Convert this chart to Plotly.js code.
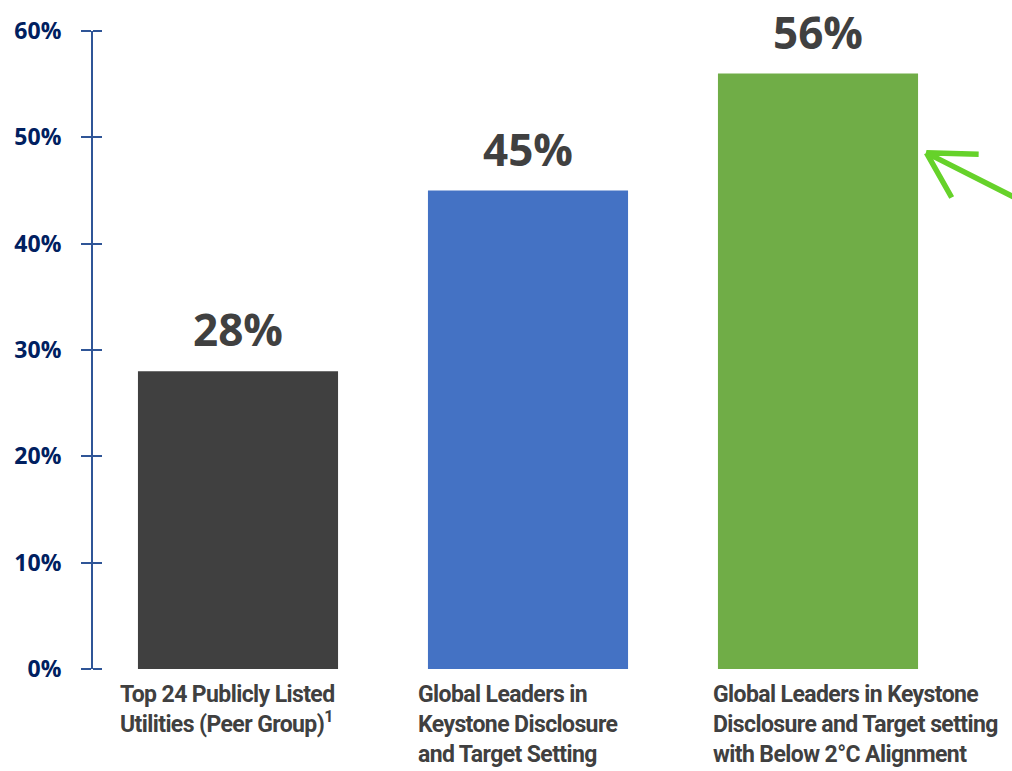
<!DOCTYPE html>
<html>
<head>
<meta charset="utf-8">
<script src="https://cdn.plot.ly/plotly-3.0.1.min.js"></script>
<style>
html,body{margin:0;padding:0;background:#fff;}
</style>
</head>
<body>
<div id="chart" style="width:1012px;height:771px;"></div>
<script>
const categories = [
  "Top 24 Publicly Listed<br>Utilities (Peer Group)<sup>1</sup>",
  "Global Leaders in<br>Keystone Disclosure<br>and Target Setting",
  "Global Leaders in Keystone<br>Disclosure and Target setting<br>with Below 2°C Alignment"
];
const values = [28, 45, 56];
const valueLabels = ["28%", "45%", "56%"];
const barColors = ["#404040", "#4472C4", "#70AD47"];
const yTickVals = [0, 10, 20, 30, 40, 50, 60];
const yTickText = ["0%", "10%", "20%", "30%", "40%", "50%", "60%"];

const xIdx = categories.map((_, i) => i);
const labelShift = [-0.414, -0.386, -0.369];

const trace = {
  type: "bar",
  x: xIdx,
  y: values,
  marker: {color: barColors},
  width: 0.69,
  hoverinfo: "skip"
};

const annotations = [];
values.forEach((v, i) => {
  annotations.push({
    x: i, y: v, xref: "x", yref: "y",
    text: "<b>" + valueLabels[i] + "</b>",
    showarrow: false, yanchor: "bottom", yshift: 10,
    font: {family: "Open Sans", size: 44, color: "#404040"}
  });
});
categories.forEach((c, i) => {
  annotations.push({
    x: i + labelShift[i], y: 0, xref: "x", yref: "y",
    text: c, showarrow: false, xanchor: "left", yanchor: "top", align: "left",
    yshift: -10,
    font: {family: "Roboto, sans-serif", size: 23, weight: 700, color: "#404040"}
  });
});

const layout = {
  width: 1012, height: 771,
  margin: {l: 93, r: 49, t: 31, b: 102},
  paper_bgcolor: "#ffffff", plot_bgcolor: "#ffffff",
  showlegend: false,
  bargap: 0.31,
  xaxis: {
    range: [-0.5, 2.5], showticklabels: false, ticks: "", showgrid: false,
    zeroline: false, showline: false, fixedrange: true
  },
  yaxis: {
    range: [0, 60], tickmode: "array", tickvals: yTickVals, ticktext: yTickText,
    ticks: "outside", ticklen: 10, tickwidth: 2, tickcolor: "#2F5597",
    showline: true, linecolor: "#2F5597", linewidth: 2,
    showgrid: false, zeroline: false, ticklabelstandoff: 15,
    tickfont: {family: "Open Sans", size: 23, color: "#002060", weight: 700}
  },
  yaxis2: {
    range: [0, 60], tickmode: "array", tickvals: yTickVals,
    overlaying: "y", side: "left", anchor: "free", position: 0.0103,
    ticks: "outside", ticklen: 9, tickwidth: 2, tickcolor: "#2F5597",
    showticklabels: false, showline: false, showgrid: false, zeroline: false
  },
  annotations: annotations,
  shapes: [
    {type: "path", xref: "paper", yref: "paper",
     path: "M 1.08,0.725 L 0.958,0.809 L 1.018,0.807 M 0.958,0.809 L 0.987,0.739",
     line: {color: "#66D22A", width: 5.5}}
  ]
};

const helper = {type: "scatter", x: [0], y: [0], yaxis: "y2", mode: "markers", marker: {opacity: 0}, hoverinfo: "skip"};

const gd = document.getElementById("chart");
Plotly.newPlot(gd, [trace, helper], layout, {displayModeBar: false, staticPlot: true}).then(() => {
  const nodes = gd.querySelectorAll(".annotation-text");
  nodes.forEach((n, k) => { if (k >= values.length) n.style.letterSpacing = "-0.6px"; });
});
</script>
</body>
</html>
